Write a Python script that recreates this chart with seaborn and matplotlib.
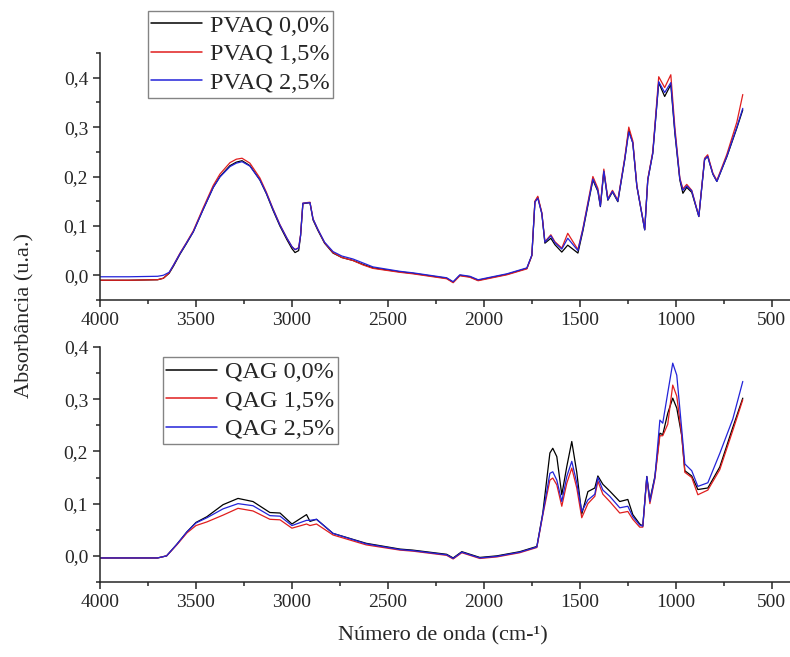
import numpy as np
import pandas as pd
import seaborn as sns
import matplotlib.pyplot as plt
from matplotlib.ticker import MultipleLocator, FuncFormatter

# -------------------------------
# Data
# -------------------------------
wn_top = [4000, 3850, 3700, 3670, 3640, 3618, 3583, 3550, 3514, 3463,
          3410, 3375, 3323, 3290, 3260, 3219, 3167, 3133, 3099, 3063,
          3026, 3000, 2984, 2965, 2955, 2943, 2906, 2890, 2865, 2830,
          2786, 2740, 2682, 2630, 2578, 2437, 2370, 2194, 2160, 2125,
          2073, 2030, 1968, 1880, 1776, 1750, 1734, 1719, 1698, 1682,
          1651, 1630, 1594, 1563, 1510, 1484, 1432, 1406, 1393, 1375,
          1354, 1330, 1302, 1266, 1245, 1224, 1203, 1162, 1146, 1120,
          1089, 1058, 1026, 1005, 979, 963, 943, 917, 880, 850,
          834, 807, 786, 734, 682, 651]

pvaq_00 = [-0.010, -0.010, -0.009, -0.006, 0.004, 0.018, 0.043, 0.064, 0.088, 0.133,
           0.178, 0.200, 0.222, 0.229, 0.232, 0.222, 0.193, 0.165, 0.132, 0.100,
           0.072, 0.054, 0.046, 0.050, 0.080, 0.145, 0.147, 0.112, 0.091, 0.065,
           0.045, 0.036, 0.030, 0.022, 0.015, 0.007, 0.004, -0.006, -0.014, 0.000,
           -0.003, -0.010, -0.005, 0.002, 0.014, 0.040, 0.149, 0.158, 0.125, 0.065,
           0.075, 0.062, 0.047, 0.061, 0.045, 0.090, 0.193, 0.170, 0.139, 0.210,
           0.152, 0.169, 0.149, 0.234, 0.295, 0.268, 0.180, 0.092, 0.193, 0.247,
           0.390, 0.362, 0.386, 0.288, 0.193, 0.166, 0.178, 0.168, 0.119, 0.234,
           0.241, 0.205, 0.190, 0.240, 0.298, 0.335]
pvaq_15 = [-0.010, -0.010, -0.009, -0.006, 0.005, 0.020, 0.045, 0.066, 0.090, 0.136,
           0.182, 0.205, 0.228, 0.235, 0.237, 0.227, 0.197, 0.168, 0.135, 0.103,
           0.075, 0.058, 0.052, 0.056, 0.082, 0.146, 0.148, 0.114, 0.093, 0.066,
           0.046, 0.036, 0.030, 0.021, 0.014, 0.006, 0.003, -0.007, -0.015, -0.001,
           -0.004, -0.011, -0.006, 0.001, 0.013, 0.040, 0.150, 0.160, 0.127, 0.068,
           0.082, 0.068, 0.055, 0.085, 0.052, 0.095, 0.200, 0.176, 0.142, 0.215,
           0.155, 0.172, 0.152, 0.238, 0.300, 0.272, 0.182, 0.093, 0.195, 0.250,
           0.402, 0.380, 0.406, 0.300, 0.197, 0.175, 0.184, 0.172, 0.120, 0.237,
           0.244, 0.207, 0.192, 0.245, 0.310, 0.366]
pvaq_25 = [-0.003, -0.003, -0.002, 0.000, 0.006, 0.020, 0.044, 0.065, 0.088, 0.133,
           0.178, 0.199, 0.220, 0.227, 0.230, 0.221, 0.193, 0.166, 0.134, 0.102,
           0.075, 0.058, 0.052, 0.055, 0.081, 0.146, 0.147, 0.114, 0.093, 0.067,
           0.048, 0.039, 0.033, 0.025, 0.017, 0.008, 0.005, -0.005, -0.013, 0.001,
           -0.002, -0.009, -0.004, 0.003, 0.015, 0.041, 0.148, 0.156, 0.125, 0.067,
           0.080, 0.066, 0.053, 0.075, 0.050, 0.093, 0.195, 0.172, 0.140, 0.211,
           0.153, 0.170, 0.150, 0.235, 0.290, 0.268, 0.181, 0.092, 0.193, 0.247,
           0.392, 0.370, 0.390, 0.292, 0.195, 0.172, 0.181, 0.171, 0.119, 0.235,
           0.241, 0.205, 0.190, 0.241, 0.300, 0.338]

wn_bot = [4000, 3850, 3700, 3653, 3600, 3547, 3500, 3443, 3359, 3281,
          3203, 3115, 3062, 3000, 2924, 2906, 2872, 2786, 2613, 2437,
          2370, 2194, 2160, 2115, 2021, 1932, 1813, 1724, 1693, 1656,
          1641, 1620, 1594, 1568, 1542, 1516, 1490, 1458, 1422, 1406,
          1380, 1344, 1292, 1250, 1224, 1188, 1172, 1151, 1135, 1109,
          1083, 1068, 1042, 1016, 995, 969, 953, 917, 885, 833,
          771, 703, 651]

qag_00 = [-0.004, -0.004, -0.004, 0.000, 0.022, 0.046, 0.064, 0.075, 0.098, 0.110,
          0.104, 0.083, 0.082, 0.061, 0.079, 0.066, 0.070, 0.043, 0.024, 0.013,
          0.011, 0.003, -0.004, 0.008, -0.003, 0.000, 0.008, 0.018, 0.082, 0.197,
          0.206, 0.190, 0.117, 0.171, 0.219, 0.160, 0.080, 0.123, 0.130, 0.153,
          0.137, 0.124, 0.104, 0.108, 0.079, 0.061, 0.057, 0.152, 0.107, 0.152,
          0.235, 0.232, 0.273, 0.302, 0.283, 0.230, 0.163, 0.153, 0.127, 0.130,
          0.170, 0.246, 0.302]
qag_15 = [-0.004, -0.004, -0.004, 0.000, 0.021, 0.044, 0.058, 0.065, 0.078, 0.091,
          0.086, 0.070, 0.069, 0.053, 0.061, 0.058, 0.061, 0.040, 0.021, 0.011,
          0.009, 0.001, -0.006, 0.006, -0.005, -0.002, 0.006, 0.016, 0.078, 0.145,
          0.149, 0.136, 0.095, 0.139, 0.168, 0.130, 0.073, 0.100, 0.114, 0.143,
          0.118, 0.104, 0.082, 0.085, 0.070, 0.055, 0.055, 0.150, 0.100, 0.148,
          0.230, 0.230, 0.252, 0.327, 0.306, 0.230, 0.160, 0.150, 0.117, 0.126,
          0.165, 0.240, 0.299]
qag_25 = [-0.004, -0.004, -0.004, 0.000, 0.022, 0.046, 0.063, 0.073, 0.090, 0.100,
          0.096, 0.077, 0.076, 0.058, 0.068, 0.068, 0.070, 0.043, 0.023, 0.012,
          0.010, 0.002, -0.005, 0.007, -0.004, -0.001, 0.007, 0.017, 0.080, 0.158,
          0.161, 0.145, 0.104, 0.152, 0.181, 0.140, 0.085, 0.107, 0.118, 0.150,
          0.126, 0.114, 0.092, 0.095, 0.075, 0.059, 0.057, 0.152, 0.104, 0.150,
          0.260, 0.254, 0.312, 0.369, 0.346, 0.242, 0.176, 0.163, 0.133, 0.140,
          0.196, 0.262, 0.334]

labels_top = ["PVAQ 0,0%", "PVAQ 1,5%", "PVAQ 2,5%"]
labels_bot = ["QAG 0,0%", "QAG 1,5%", "QAG 2,5%"]
colors = ["black", "#e01e1e", "#2323d8"]


def long_df(wn, series, labels):
    frames = [pd.DataFrame({"wn": wn, "abs": s, "amostra": lab}) for s, lab in zip(series, labels)]
    return pd.concat(frames, ignore_index=True)


df_top = long_df(wn_top, [pvaq_00, pvaq_15, pvaq_25], labels_top)
df_bot = long_df(wn_bot, [qag_00, qag_15, qag_25], labels_bot)

# -------------------------------
# Style
# -------------------------------
sns.set_style("ticks")
plt.rcParams["font.family"] = ["Liberation Serif", "DejaVu Serif"]
plt.rcParams["axes.linewidth"] = 1.1

fig = plt.figure(figsize=(7.9, 6.57), dpi=100)
ax_top = fig.add_axes([0.1266, 0.5434, 0.8734, 0.3759])
ax_bot = fig.add_axes([0.1266, 0.1142, 0.8734, 0.3577])

comma = FuncFormatter(lambda v, p: f"{v:.1f}".replace(".", ","))

for ax, df, labels, ylim, leg_xy in [
    (ax_top, df_top, labels_top, (-0.05, 0.45), (0.187, 0.983)),
    (ax_bot, df_bot, labels_bot, (-0.05, 0.40), (0.206, 0.456)),
]:
    sns.lineplot(data=df, x="wn", y="abs", hue="amostra", hue_order=labels,
                 palette=colors, sort=False, estimator=None, linewidth=0.9, ax=ax)
    ax.set_xlim(4000, 405)
    ax.set_ylim(*ylim)
    ax.xaxis.set_major_locator(MultipleLocator(500))
    ax.xaxis.set_minor_locator(MultipleLocator(250))
    ax.yaxis.set_major_locator(MultipleLocator(0.1))
    ax.yaxis.set_minor_locator(MultipleLocator(0.05))
    ax.yaxis.set_major_formatter(comma)
    ax.tick_params(which="major", direction="out", length=5, width=1.1, labelsize=14)
    ax.tick_params(which="minor", direction="out", length=3, width=1.1)
    sns.despine(ax=ax)
    ax.set_xlabel("")
    ax.set_ylabel("")
    leg = ax.legend(loc="upper left", bbox_to_anchor=leg_xy, bbox_transform=fig.transFigure,
                    fontsize=17.5, frameon=True, fancybox=False, handlelength=2.1,
                    handletextpad=0.3, labelspacing=0.27, borderpad=0.15, borderaxespad=0)
    leg.get_frame().set_edgecolor("#666666")
    leg.get_frame().set_linewidth(1.0)
    for line in leg.get_lines():
        line.set_linewidth(1.1)
    ax.set_yticks([0.0, 0.1, 0.2, 0.3, 0.4])

fig.text(0.032, 0.52, "Absorbância (u.a.)", rotation=90, va="center", ha="center", fontsize=16)
fig.text(0.56, 0.032, "Número de onda (cm-¹)", va="center", ha="center", fontsize=16)

plt.savefig("out.png", dpi=100)
plt.close()
